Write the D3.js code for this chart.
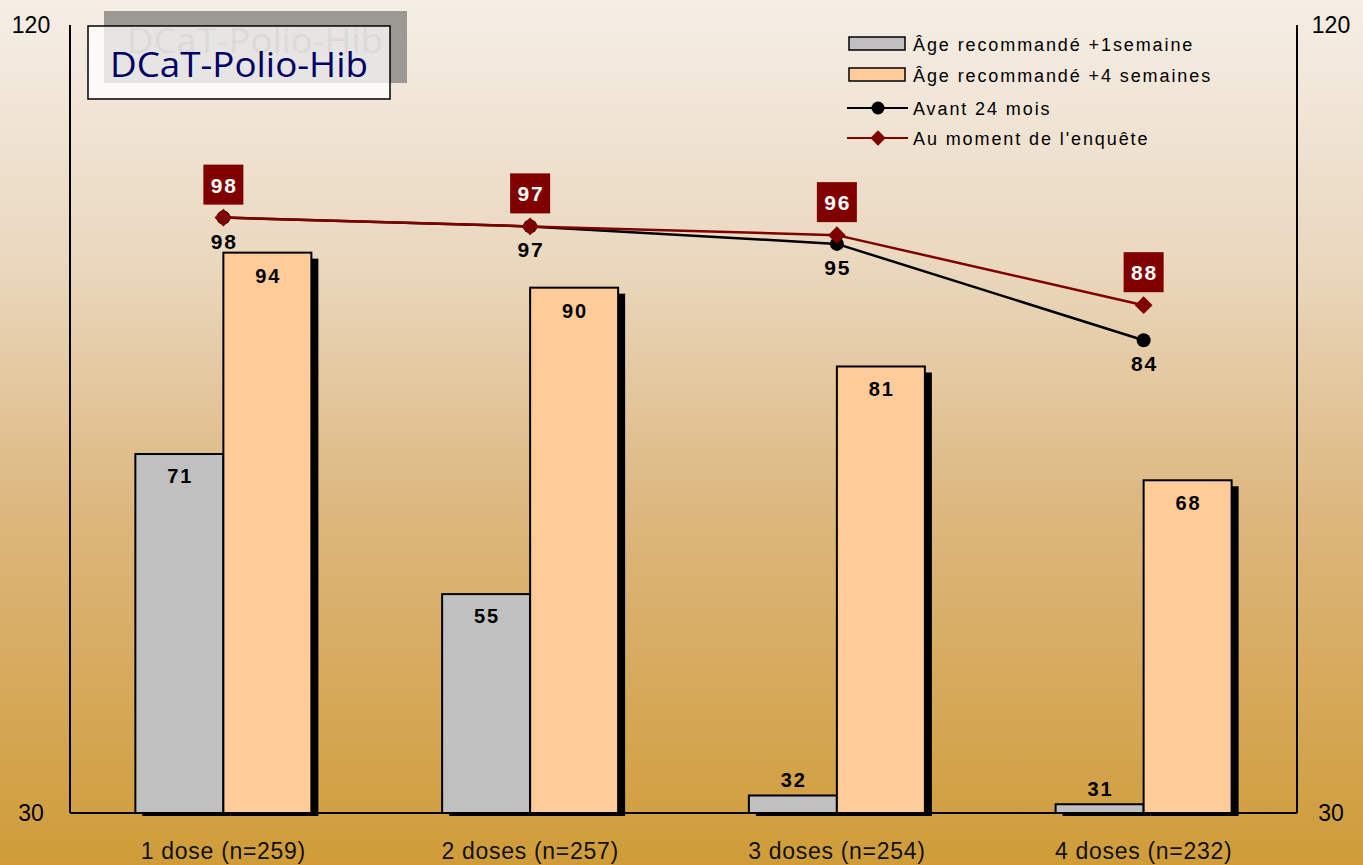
<!DOCTYPE html>
<html>
<head>
<meta charset="utf-8">
<script src="https://cdn.jsdelivr.net/npm/d3@7"></script>
<style>
  body { margin: 0; overflow: hidden; }
</style>
</head>
<body>
<div id="chart"></div>
<script>
// Data
var categories = ["1 dose (n=259)", "2 doses (n=257)", "3 doses (n=254)", "4 doses (n=232)"];
var plus1Week = [71, 55, 32, 31];
var plus4Weeks = [94, 90, 81, 68];
var before24Months = [98, 97, 95, 84];
var atSurvey = [98, 97, 96, 88];
var seriesNames = ["Âge recommandé +1semaine", "Âge recommandé +4 semaines", "Avant 24 mois", "Au moment de l'enquête"];
var yTicks = [30, 120];
var title = "DCaT-Polio-Hib";

var W = 1363, H = 865;
var M = { left: 70, right: 1297, top: 25, bottom: 813 };
var FONT = "'Liberation Sans', Arial, sans-serif";

var svg = d3.select("#chart").append("svg")
    .attr("width", W)
    .attr("height", H)
    .attr("font-family", FONT);

// Background gradient
var defs = svg.append("defs");
var grad = defs.append("linearGradient")
    .attr("id", "bg")
    .attr("x1", 0).attr("y1", 0).attr("x2", 0).attr("y2", 1);
grad.append("stop").attr("offset", "0%").attr("stop-color", "#f5eee6");
grad.append("stop").attr("offset", "30%").attr("stop-color", "#ead8bf");
grad.append("stop").attr("offset", "60%").attr("stop-color", "#dcb67c");
grad.append("stop").attr("offset", "100%").attr("stop-color", "#cf9c38");
svg.append("rect").attr("width", W).attr("height", H).attr("fill", "url(#bg)");

// Scales
var x = d3.scaleBand().domain(categories).range([M.left, M.right]).padding(0);
var y = d3.scaleLinear().domain([30, 120]).range([M.bottom, M.top]);
var barW = 88;
var cx = function (i) { return x(categories[i]) + x.bandwidth() / 2; };

// Axes frame
var frame = svg.append("g").attr("stroke", "#000").attr("stroke-width", 2);
frame.append("line").attr("x1", M.left).attr("x2", M.left).attr("y1", y(120)).attr("y2", y(30));
frame.append("line").attr("x1", M.right).attr("x2", M.right).attr("y1", y(120)).attr("y2", y(30));
frame.append("line").attr("x1", M.left).attr("x2", M.right).attr("y1", y(30)).attr("y2", y(30));

// Tick labels
var ticks = svg.append("g").attr("font-size", 23).attr("fill", "#000").attr("text-anchor", "middle");
yTicks.forEach(function (t) {
    ticks.append("text").attr("x", 31).attr("y", y(t) + 8).text(t);
    ticks.append("text").attr("x", 1331).attr("y", y(t) + 8).text(t);
});

// Category labels
svg.append("g").selectAll("text")
    .data(categories)
    .enter().append("text")
    .attr("x", function (d) { return x(d) + x.bandwidth() / 2; })
    .attr("y", 859)
    .attr("text-anchor", "middle")
    .attr("font-size", 23)
    .attr("letter-spacing", 0.7)
    .attr("fill", "#111")
    .text(function (d) { return d; });

// Bars with shadow
var bars = svg.append("g");
function drawShadows(values, offset) {
    bars.selectAll(null)
        .data(values)
        .enter().append("rect")
        .attr("x", function (d, i) { return cx(i) + offset + 7; })
        .attr("y", function (d) { return y(d) + 6; })
        .attr("width", barW)
        .attr("height", function (d) { return y(30) - y(d) - 3; })
        .attr("fill", "#000");
}
drawShadows(plus1Week, -barW);
drawShadows(plus4Weeks, 0);

function drawFills(values, offset, fill) {
    bars.selectAll(null)
        .data(values)
        .enter().append("rect")
        .attr("x", function (d, i) { return cx(i) + offset; })
        .attr("y", function (d) { return y(d); })
        .attr("width", barW)
        .attr("height", function (d) { return y(30) - y(d); })
        .attr("fill", fill)
        .attr("stroke", "#000")
        .attr("stroke-width", 2);
}
drawFills(plus1Week, -barW, "#c0c0c0");
drawFills(plus4Weeks, 0, "#ffcc99");

// Bar labels
var barLabels = svg.append("g")
    .attr("font-size", 20).attr("font-weight", "bold")
    .attr("text-anchor", "middle").attr("letter-spacing", 2);
plus1Week.forEach(function (v, i) {
    var inside = y(30) - y(v) > 40;
    barLabels.append("text")
        .attr("x", cx(i) - barW / 2 + 1)
        .attr("y", inside ? y(v) + 29 : y(v) - 8)
        .text(v);
});
plus4Weeks.forEach(function (v, i) {
    barLabels.append("text")
        .attr("x", cx(i) + barW / 2 + 1)
        .attr("y", y(v) + 30)
        .text(v);
});

// Lines
var line = d3.line()
    .x(function (d, i) { return cx(i); })
    .y(function (d) { return y(d); });

svg.append("path")
    .datum(before24Months)
    .attr("d", line)
    .attr("fill", "none")
    .attr("stroke", "#000")
    .attr("stroke-width", 2.5);
svg.append("g").selectAll("circle")
    .data(before24Months)
    .enter().append("circle")
    .attr("cx", function (d, i) { return cx(i); })
    .attr("cy", function (d) { return y(d); })
    .attr("r", 7)
    .attr("fill", "#000");

svg.append("path")
    .datum(atSurvey)
    .attr("d", line)
    .attr("fill", "none")
    .attr("stroke", "#800000")
    .attr("stroke-width", 2.5);
var diamond = d3.symbol().type(d3.symbolDiamond2).size(200);
svg.append("g").selectAll("path")
    .data(atSurvey)
    .enter().append("path")
    .attr("d", diamond)
    .attr("transform", function (d, i) { return "translate(" + cx(i) + "," + y(d) + ")"; })
    .attr("fill", "#800000");

// Line labels
var blackLabels = svg.append("g")
    .attr("font-size", 21).attr("font-weight", "bold")
    .attr("text-anchor", "middle").attr("letter-spacing", 2);
before24Months.forEach(function (v, i) {
    blackLabels.append("text")
        .attr("x", cx(i) + 1)
        .attr("y", y(v) + 31)
        .text(v);
});

var redLabels = svg.append("g");
atSurvey.forEach(function (v, i) {
    redLabels.append("rect")
        .attr("x", cx(i) - 20)
        .attr("y", y(v) - 53)
        .attr("width", 40)
        .attr("height", 40)
        .attr("fill", "#800000");
    redLabels.append("text")
        .attr("x", cx(i) + 1)
        .attr("y", y(v) - 25)
        .attr("text-anchor", "middle")
        .attr("font-size", 21)
        .attr("font-weight", "bold")
        .attr("letter-spacing", 2)
        .attr("fill", "#fff")
        .text(v);
});

// Title box
var TFONT = "'Open Sans', 'Noto Sans', sans-serif";
var tb = svg.append("g");
tb.append("rect").attr("x", 104).attr("y", 11).attr("width", 303).attr("height", 72).attr("fill", "#9b9994");
tb.append("rect").attr("x", 88).attr("y", 26).attr("width", 302).attr("height", 73)
    .attr("fill", "#fcfaf7").attr("stroke", "#000").attr("stroke-width", 1.5);
tb.append("rect").attr("x", 104).attr("y", 27).attr("width", 285).attr("height", 56).attr("fill", "#e6e5e4");
tb.append("text").attr("x", 127).attr("y", 53)
    .attr("font-family", TFONT).attr("font-size", 34)
    .attr("textLength", 256).attr("lengthAdjust", "spacingAndGlyphs")
    .attr("fill", "#dcdad8").text(title);
tb.append("text").attr("x", 110).attr("y", 77)
    .attr("font-family", TFONT).attr("font-size", 34)
    .attr("textLength", 258).attr("lengthAdjust", "spacingAndGlyphs")
    .attr("fill", "#000066").text(title);

// Legend
var legend = svg.append("g").attr("font-size", 18).attr("fill", "#000");
var rows = [44, 75, 108, 138];
legend.append("rect").attr("x", 849).attr("y", 37).attr("width", 56).attr("height", 13)
    .attr("fill", "#c0c0c0").attr("stroke", "#000").attr("stroke-width", 1.5);
legend.append("rect").attr("x", 849).attr("y", 68).attr("width", 56).attr("height", 13)
    .attr("fill", "#ffcc99").attr("stroke", "#000").attr("stroke-width", 1.5);
legend.append("line").attr("x1", 847).attr("x2", 908).attr("y1", rows[2]).attr("y2", rows[2])
    .attr("stroke", "#000").attr("stroke-width", 2);
legend.append("circle").attr("cx", 878).attr("cy", rows[2]).attr("r", 6.5).attr("fill", "#000");
legend.append("line").attr("x1", 847).attr("x2", 908).attr("y1", rows[3]).attr("y2", rows[3])
    .attr("stroke", "#800000").attr("stroke-width", 2);
legend.append("path").attr("d", d3.symbol().type(d3.symbolDiamond2).size(150))
    .attr("transform", "translate(878," + rows[3] + ")").attr("fill", "#800000");
seriesNames.forEach(function (n, i) {
    legend.append("text").attr("x", 913).attr("y", rows[i] + 7)
        .attr("letter-spacing", 1.9).text(n);
});
</script>
</body>
</html>
